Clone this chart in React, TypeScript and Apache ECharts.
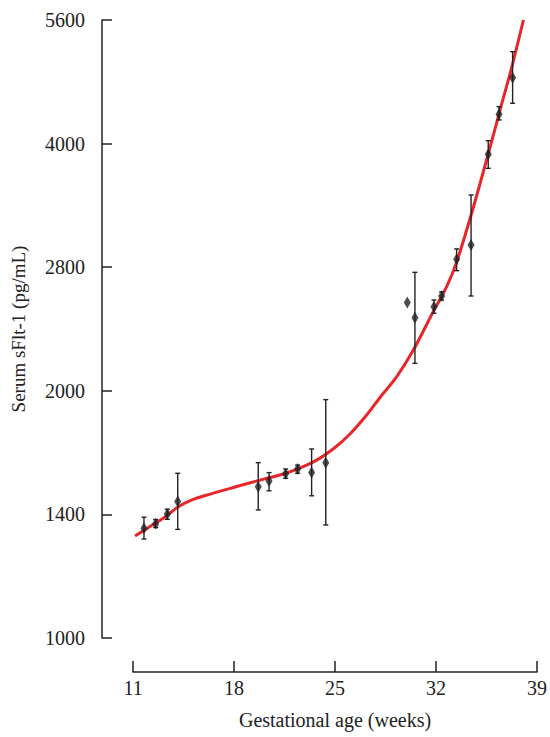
import React, { useEffect, useRef } from "react";
import * as echarts from "echarts";

// Gestational age (weeks) of each measured group
const weeks = [11.76, 12.57, 13.38, 14.1, 19.68, 20.43, 21.58, 22.41, 23.38, 24.36, 30.01, 30.54, 31.86, 32.39, 33.43, 34.43, 35.62, 36.37, 37.31];
// Serum sFlt-1 mean (pg/mL)
const means = [1360, 1378, 1416, 1466, 1528, 1553, 1585, 1606, 1590, 1635, 2561, 2455, 2532, 2609, 2892, 3010, 3883, 4343, 4812];
// Error bar upper / lower (pg/mL); null = no bar drawn
const upper = [1403, 1394, 1435, 1587, 1635, 1590, 1606, 1624, 1699, 1951, null, 2788, 2580, 2639, 2977, 3463, 4033, 4436, 5176];
const lower = [1320, 1363, 1395, 1356, 1432, 1511, 1565, 1587, 1490, 1373, null, 2160, 2486, 2580, 2801, 2609, 3732, 4274, 4479];

// Fitted curve
const curveWeeks = [11.14, 12.18, 13.22, 14.12, 15.09, 16.34, 18.07, 19.8, 21.54, 22.92, 23.96, 25.0, 26.04, 27.08, 28.12, 29.28, 30.43, 31.81, 32.74, 33.44, 34.47, 35.6, 36.44, 37.27, 38.06];
const curveValues = [1331, 1367, 1404, 1444, 1473, 1497, 1527, 1557, 1586, 1620, 1656, 1706, 1772, 1858, 1963, 2081, 2242, 2497, 2678, 2873, 3290, 3874, 4395, 4972, 5657];

// Axis ticks
const xTicks = [11, 18, 25, 32, 39];
const yTickLabels = ["1000", "1400", "2000", "2800", "4000", "5600"];

// log scale with base sqrt(2), anchored at 1000
const toAxis = (v: number) => 2 * Math.log2(v / 1000);

const FONT = "'Liberation Serif', 'DejaVu Serif', serif";
const INK = "#222";

export default function App() {
  const ref = useRef<HTMLDivElement>(null);

  useEffect(() => {
    if (!ref.current) return;
    const chart = echarts.init(ref.current, undefined, { renderer: "svg" });

    const curveData = curveWeeks.map((w, i) => [w, toAxis(curveValues[i])]);
    const pointData = weeks.map((w, i) => [w, toAxis(means[i])]);
    const errData = weeks
      .map((w, i) => (upper[i] == null || lower[i] == null ? null : [w, toAxis(lower[i] as number), toAxis(upper[i] as number)]))
      .filter((d) => d !== null);

    chart.setOption({
      animation: false,
      backgroundColor: "#fff",
      grid: { left: 133, right: 13, top: 20, bottom: 99, containLabel: false },
      xAxis: {
        type: "value",
        min: xTicks[0],
        max: xTicks[xTicks.length - 1],
        interval: 7,
        offset: 34,
        name: "Gestational age (weeks)",
        nameLocation: "middle",
        nameGap: 38,
        nameTextStyle: { fontFamily: FONT, fontSize: 20, color: INK },
        axisLine: { show: true, onZero: false, lineStyle: { color: INK, width: 1.5 } },
        axisTick: { show: true, inside: true, length: 11, lineStyle: { color: INK, width: 1.5 } },
        axisLabel: { fontFamily: FONT, fontSize: 20, color: INK, margin: 6 },
        splitLine: { show: false },
      },
      yAxis: {
        type: "value",
        min: 0,
        max: 5,
        interval: 1,
        offset: 31,
        name: "Serum sFlt-1 (pg/mL)",
        nameLocation: "middle",
        nameGap: 74,
        nameRotate: 90,
        nameTextStyle: { fontFamily: FONT, fontSize: 19, color: INK },
        axisLine: { show: true, onZero: false, lineStyle: { color: INK, width: 1.5 } },
        axisTick: { show: true, inside: true, length: 10, lineStyle: { color: INK, width: 1.5 } },
        axisLabel: {
          fontFamily: FONT,
          fontSize: 20,
          color: INK,
          margin: 17,
          formatter: (v: number) => yTickLabels[Math.round(v)] ?? "",
        },
        splitLine: { show: false },
      },
      series: [
        {
          type: "line",
          data: curveData,
          smooth: 0.3,
          showSymbol: false,
          lineStyle: { color: "#e8262a", width: 3 },
          z: 1,
        },
        {
          type: "custom",
          data: errData,
          z: 2,
          renderItem: (params: any, api: any) => {
            const x = api.value(0);
            const lo = api.coord([x, api.value(1)]);
            const hi = api.coord([x, api.value(2)]);
            const cap = 2.5;
            const style = { stroke: INK, lineWidth: 1.4 };
            return {
              type: "group",
              children: [
                { type: "line", shape: { x1: lo[0], y1: lo[1], x2: hi[0], y2: hi[1] }, style },
                { type: "line", shape: { x1: lo[0] - cap, y1: lo[1], x2: lo[0] + cap, y2: lo[1] }, style },
                { type: "line", shape: { x1: hi[0] - cap, y1: hi[1], x2: hi[0] + cap, y2: hi[1] }, style },
              ],
            };
          },
        },
        {
          type: "scatter",
          data: pointData,
          symbol: "diamond",
          symbolSize: [7, 12],
          itemStyle: { color: INK },
          z: 3,
        },
      ],
    });

    return () => chart.dispose();
  }, []);

  return <div ref={ref} style={{ position: "fixed", left: 0, top: 0, width: 550, height: 737 }} />;
}
